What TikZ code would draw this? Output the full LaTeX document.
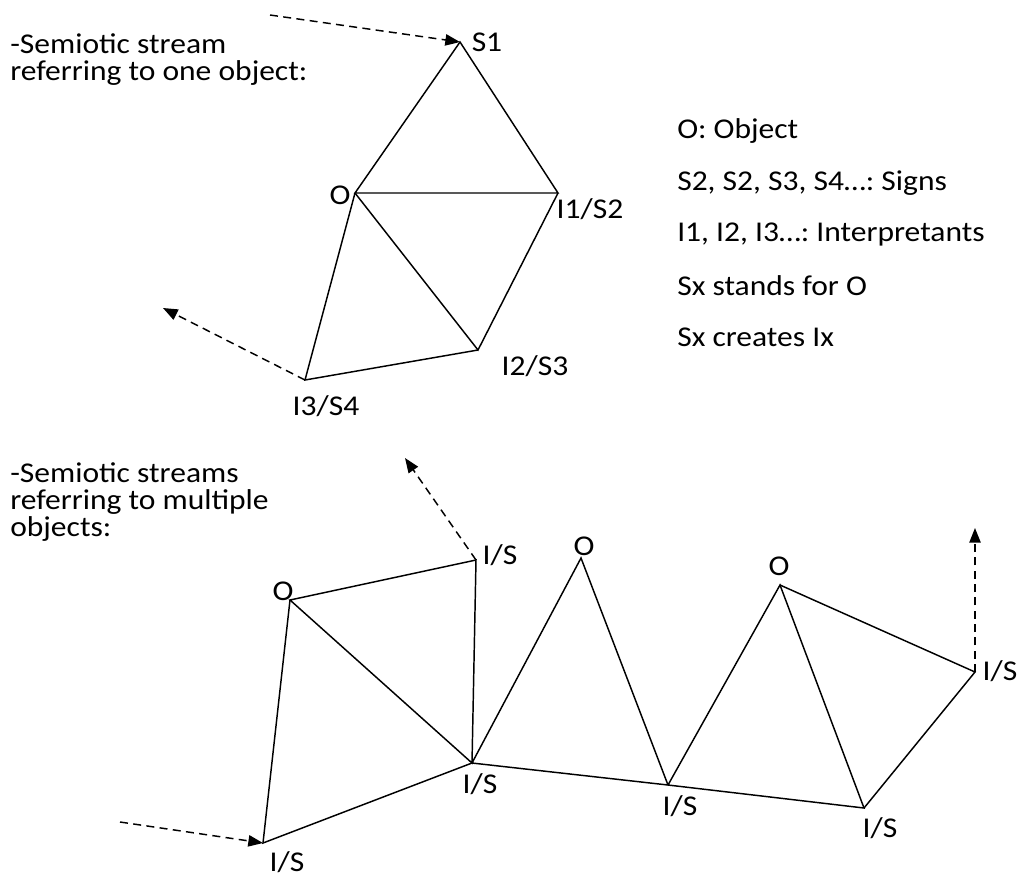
\documentclass[tikz,border=0pt]{standalone}
\usepackage{fontspec}
\setmainfont{Carlito}[FakeStretch=1.1]
\usetikzlibrary{arrows.meta}
\frenchspacing
\begin{document}
\begin{tikzpicture}[x=0.75pt,y=-0.75pt,
  edge/.style={line width=1.1pt},
  flow/.style={line width=1.1pt,dash pattern=on 6pt off 4pt,-{Triangle[length=11pt,width=8.5pt]}},
  lbl/.style={font=\fontsize{21.5pt}{20.25pt}\selectfont,inner sep=0pt},
  txt/.style={font=\fontsize{21.5pt}{20.5pt}\selectfont,inner sep=0pt,align=left,anchor=north west}]
\useasboundingbox (0,0) rectangle (1020,879);
% ---------- top diagram ----------
\coordinate (S1) at (460,42);
\coordinate (O) at (355,193);
\coordinate (I1) at (558,193);
\coordinate (I2) at (478,350);
\coordinate (I3) at (305,380);
\coordinate (inS) at (270,15);
\coordinate (outT) at (163,308);
\draw[edge] (S1) -- (O) -- (I1) -- cycle;
\draw[edge] (O) -- (I2) -- (I1);
\draw[edge] (O) -- (I3) -- (I2);
\draw[flow] (inS) -- (S1);
\draw[flow] (I3) -- (outT);
\node[lbl] (lS1) at (487,42) {S1};
\node[lbl] (lO) at (340,195) {O};
\node[lbl] (lI1) at (590,209) {I1/S2};
\node[lbl] (lI2) at (535,366) {I2/S3};
\node[lbl] (lI3) at (326,406) {I3/S4};
\node[txt] (t1) at (10,33.5) {-Semiotic stream\\referring to one object:};
\node[txt,anchor=west] (k1) at (677,131) {O: Object};
\node[txt,anchor=west] (k2) at (677,183) {S2, S2, S3, S4…: Signs};
\node[txt,anchor=west] (k3) at (677,235) {I1, I2, I3…: Interpretants};
\node[txt,anchor=west] (k4) at (677,286) {Sx stands for O};
\node[txt,anchor=west] (k5) at (677,337) {Sx creates Ix};
% ---------- bottom diagram ----------
\coordinate (B1) at (263,843);
\coordinate (A) at (290,600);
\coordinate (T) at (476,560);
\coordinate (M1) at (472,763);
\coordinate (P) at (581,558);
\coordinate (M2) at (668,785);
\coordinate (Q) at (780,585);
\coordinate (M3) at (864,808);
\coordinate (R) at (975,672);
\coordinate (inB) at (120,822);
\coordinate (outB1) at (405,458);
\coordinate (outB2) at (975,528);
\draw[edge] (A) -- (T) -- (M1) -- cycle;
\draw[edge] (A) -- (B1) -- (M1);
\draw[edge] (M1) -- (P) -- (M2) -- (M1);
\draw[edge] (M2) -- (Q) -- (M3) -- (M2);
\draw[edge] (Q) -- (R) -- (M3);
\draw[flow] (inB) -- (B1);
\draw[flow] (T) -- (outB1);
\draw[flow] (R) -- (outB2);
\node[lbl] (lA) at (283,591) {O};
\node[lbl] (lT) at (500,555) {I/S};
\node[lbl] (lP) at (584,546) {O};
\node[lbl] (lQ) at (779,566) {O};
\node[lbl] (lR) at (1000,671) {I/S};
\node[lbl] (lM1) at (480,784) {I/S};
\node[lbl] (lM2) at (680,806) {I/S};
\node[lbl] (lM3) at (880,828) {I/S};
\node[lbl] (lB1) at (287,862) {I/S};
\node[txt] (t2) at (10,462) {-Semiotic streams\\referring to multiple\\objects:};
\end{tikzpicture}
\end{document}
